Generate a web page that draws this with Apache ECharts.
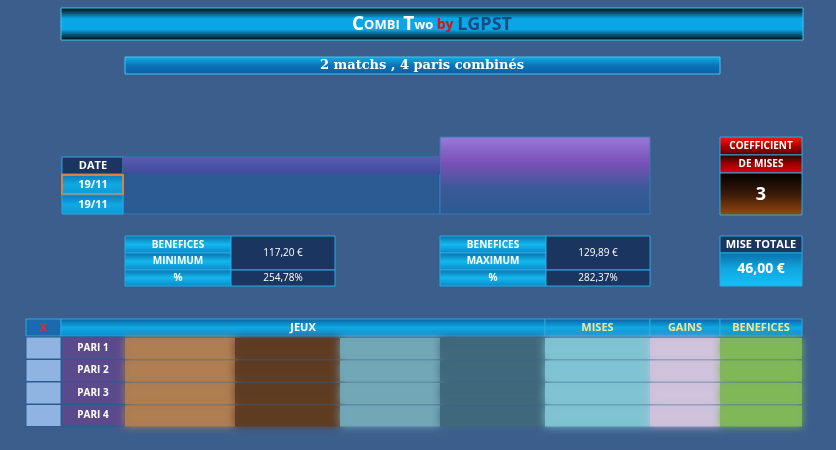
<!DOCTYPE html>
<html><head><meta charset="utf-8">
<script src="https://cdn.jsdelivr.net/npm/echarts@6/dist/echarts.min.js"></script>
<style>html,body{margin:0;padding:0;background:#3b5e8c}#c{width:836px;height:450px}</style>
</head><body><div id="c"></div>
<script>
const title = ["Combi ", "Two", " by ", "LGPST"];
const subtitle = "2 matchs , 4 paris combinés";
const dates = ["19/11", "19/11"];
const coefficient = ["COEFFICIENT", "DE MISES", "3"];
const minBox = ["BENEFICES", "MINIMUM", "%", "117,20 €", "254,78%"];
const maxBox = ["BENEFICES", "MAXIMUM", "%", "129,89 €", "282,37%"];
const miseTotale = ["MISE TOTALE", "46,00 €"];
const headers = ["X", "JEUX", "MISES", "GAINS", "BENEFICES"];
const paris = ["PARI 1", "PARI 2", "PARI 3", "PARI 4"];

const F = 'Open Sans, "Noto Sans", sans-serif';
const g = [];
const grad = (stops) => ({type:'linear',x:0,y:0,x2:0,y2:1,colorStops:stops.map((c,i)=>({offset:i/(stops.length-1),color:c}))});
const cyan = grad(['#0a6fa8','#12b8ee','#0a86c8']);
const cyan2 = grad(['#0b79b6','#10a8e2','#0c9ad6']);
const navy = '#1b3561';
function box(x,y,w,h,fill,stroke,z,extra){g.push(Object.assign({type:'rect',shape:{x,y,width:w,height:h},style:{fill,stroke:stroke||'#2aa8e0',lineWidth:1},z:z||1},extra||{}));}
function txt(x,y,t,size,color,opts){g.push({type:'text',x,y,z:5,style:Object.assign({text:t,font:`bold ${size}px ${F}`,fill:color||'#fff',align:'center',verticalAlign:'middle'},opts||{})});}

// title
box(61,8,742,32,grad(['#000','#0aa6e6','#0aa6e6','#000']),'#3cc8f5');
g.push({type:'text',x:432,y:25,z:5,style:{text:`{a|C}{b|OMBI }{a|T}{b|wo }{r|by }{l|LGPST}`,align:'center',verticalAlign:'middle',
 rich:{a:{font:`bold 19px ${F}`,fill:'#fff'},b:{font:`bold 13px ${F}`,fill:'#fff'},r:{font:`bold 14px ${F}`,fill:'#e01010'},l:{font:`bold 18px ${F}`,fill:'#1a4a80'}}}});
// subtitle
box(125,57,595,17,grad(['#10aee8','#0a74b8','#0a5f9e']),'#3cc8f5');
txt(422,66,subtitle,13,'#fff',{font:`bold 13px "DejaVu Serif", serif`});

// blurred match table
box(123,157,317,57,'#2c5a92','#3a7ab8',1);
box(123,157,317,17,grad(['#5054a8','#3a4a9a']),null,2,{style:{fill:grad(['#5a5cb0','#3c4c9c']),stroke:'none'}});
box(440,137,210,77,grad(['#9a7ad8','#7a50b8','#3a5a98','#2c5a92']),'#3a7ab8',1);
// date table
box(62,157,61,17,navy,'#2aa8e0'); txt(93,166,'DATE',11);
dates.forEach((d,i)=>{box(62,175+i*20,61,19,cyan2,i==0?'#e08040':'#2aa8e0',2,i==0?{style:{fill:cyan2,stroke:'#e08040',lineWidth:2}}:null);txt(93,185+i*20,d,11);});

// coefficient
box(720,137,82,18,grad(['#ff1a1a','#b00000','#500000']),'#2aa8e0'); txt(761,146,coefficient[0],10);
box(720,155,82,18,grad(['#200000','#a00000','#e00000']),'#2aa8e0'); txt(761,164,coefficient[1],10);
box(720,173,82,42,grad(['#000','#3a1a08','#9a4a10']),'#2aa8e0'); txt(761,195,coefficient[2],18);

function benef(x,arr){
  box(x,236,106,17,cyan,'#2aa8e0'); txt(x+53,245,arr[0],10);
  box(x,253,106,17,cyan,'#2aa8e0'); txt(x+53,261,arr[1],10);
  box(x,270,106,16,cyan,'#2aa8e0'); txt(x+53,278,arr[2],10);
  box(x+106,236,104,34,navy,'#2aa8e0'); txt(x+158,253,arr[3],10,'#fff',{font:`10px ${F}`});
  box(x+106,270,104,16,navy,'#2aa8e0'); txt(x+158,278,arr[4],10,'#fff',{font:`10px ${F}`});
}
benef(125,minBox); benef(440,maxBox);
box(720,236,82,17,navy,'#2aa8e0'); txt(761,245,miseTotale[0],11);
box(720,253,82,33,grad(['#0a6fa8','#10a8e2','#14c0f4']),'#2aa8e0'); txt(761,269,miseTotale[1],14);

// bottom table
const cols=[[26,35],[61,484],[545,105],[650,70],[720,82]];
headers.forEach((h,i)=>{const [x,w]=cols[i];box(x,319,w,17,i==0?'#1a6ab0':grad(['#0a5f9e','#10a8e2','#0a8ad0']),'#2aa8e0');txt(x+w/2,328,h,11,i==0?'#ff2020':(i==1?'#fff':'#f0e890'));});
const blur=[[125,110,'#b07e50'],[235,105,'#5e3c22'],[340,100,'#72a8b6'],[440,105,'#40687c'],[545,105,'#80c4d4'],[650,70,'#d0c4dc'],[720,82,'#80b858']];
paris.forEach((p,i)=>{const y=337+i*22.5;
  box(26,y,35,22,'#8fb4e2','#2a5a90');
  box(62,y,63,22,'#5a4a8c','#2a5a90'); txt(93,y+11,p,10);
  blur.forEach(([x,w,c])=>box(x,y+1,w,21,c,'none',1,{style:{fill:c,shadowBlur:8,shadowColor:c,opacity:0.92}}));
});
const chart=echarts.init(document.getElementById('c'));
chart.setOption({backgroundColor:'#3b5e8c',graphic:{elements:g}});
</script></body></html>
